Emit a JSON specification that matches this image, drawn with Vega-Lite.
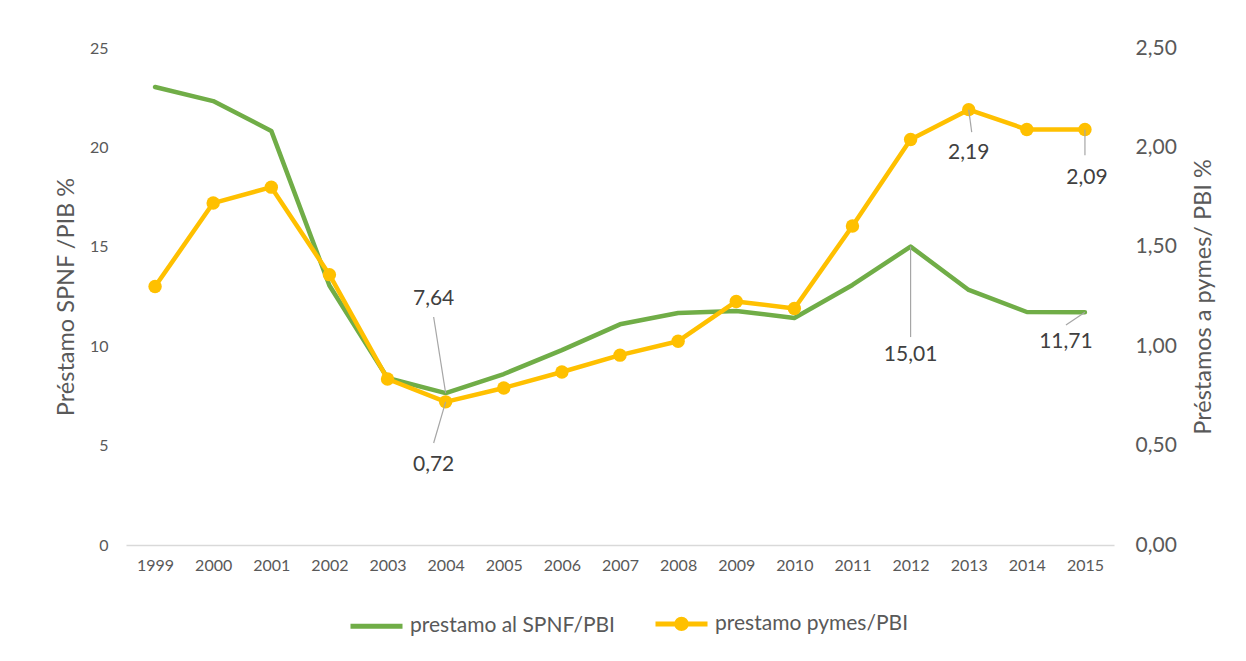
{
  "$schema": "https://vega.github.io/schema/vega-lite/v6.json",
  "autosize": {"type": "none"},
  "padding": {"left": 126, "top": 48, "right": 132, "bottom": 116},
  "width": 988,
  "height": 497,
  "background": "white",
  "config": {
    "locale": {"number": {"decimal": ",", "thousands": ".", "grouping": [3], "currency": ["", " €"]}},
    "font": "Lato",
    "view": {"stroke": null},
    "axis": {"grid": false, "ticks": false, "labelColor": "#595959", "titleColor": "#595959", "titleFontWeight": "normal", "labelFont": "Lato", "titleFont": "Lato"},
    "legend": {"labelFont": "Lato"}
  },
  "data": {
    "values": [
      {"year": 1999, "serie": "prestamo al SPNF/PBI", "value": 23.04},
      {"year": 2000, "serie": "prestamo al SPNF/PBI", "value": 22.33},
      {"year": 2001, "serie": "prestamo al SPNF/PBI", "value": 20.83},
      {"year": 2002, "serie": "prestamo al SPNF/PBI", "value": 13.05},
      {"year": 2003, "serie": "prestamo al SPNF/PBI", "value": 8.40},
      {"year": 2004, "serie": "prestamo al SPNF/PBI", "value": 7.64},
      {"year": 2005, "serie": "prestamo al SPNF/PBI", "value": 8.60},
      {"year": 2006, "serie": "prestamo al SPNF/PBI", "value": 9.80},
      {"year": 2007, "serie": "prestamo al SPNF/PBI", "value": 11.10},
      {"year": 2008, "serie": "prestamo al SPNF/PBI", "value": 11.67},
      {"year": 2009, "serie": "prestamo al SPNF/PBI", "value": 11.77},
      {"year": 2010, "serie": "prestamo al SPNF/PBI", "value": 11.42},
      {"year": 2011, "serie": "prestamo al SPNF/PBI", "value": 13.08},
      {"year": 2012, "serie": "prestamo al SPNF/PBI", "value": 15.01},
      {"year": 2013, "serie": "prestamo al SPNF/PBI", "value": 12.83},
      {"year": 2014, "serie": "prestamo al SPNF/PBI", "value": 11.72},
      {"year": 2015, "serie": "prestamo al SPNF/PBI", "value": 11.71},
      {"year": 1999, "serie": "prestamo  pymes/PBI", "value": 1.30},
      {"year": 2000, "serie": "prestamo  pymes/PBI", "value": 1.72},
      {"year": 2001, "serie": "prestamo  pymes/PBI", "value": 1.80},
      {"year": 2002, "serie": "prestamo  pymes/PBI", "value": 1.36},
      {"year": 2003, "serie": "prestamo  pymes/PBI", "value": 0.835},
      {"year": 2004, "serie": "prestamo  pymes/PBI", "value": 0.72},
      {"year": 2005, "serie": "prestamo  pymes/PBI", "value": 0.79},
      {"year": 2006, "serie": "prestamo  pymes/PBI", "value": 0.87},
      {"year": 2007, "serie": "prestamo  pymes/PBI", "value": 0.955},
      {"year": 2008, "serie": "prestamo  pymes/PBI", "value": 1.025},
      {"year": 2009, "serie": "prestamo  pymes/PBI", "value": 1.225},
      {"year": 2010, "serie": "prestamo  pymes/PBI", "value": 1.19},
      {"year": 2011, "serie": "prestamo  pymes/PBI", "value": 1.605},
      {"year": 2012, "serie": "prestamo  pymes/PBI", "value": 2.04},
      {"year": 2013, "serie": "prestamo  pymes/PBI", "value": 2.19},
      {"year": 2014, "serie": "prestamo  pymes/PBI", "value": 2.09},
      {"year": 2015, "serie": "prestamo  pymes/PBI", "value": 2.09}
    ]
  },
  "encoding": {
    "x": {
      "field": "year", "type": "ordinal",
      "scale": {"type": "point", "padding": 0.5},
      "axis": {"title": null, "labelAngle": 0, "labelFontSize": 16, "labelPadding": 12, "domainColor": "#d9d9d9", "domainWidth": 1.5}
    }
  },
  "layer": [
    {
      "transform": [{"filter": "datum.serie === 'prestamo al SPNF/PBI'"}],
      "encoding": {
        "y": {
          "field": "value", "type": "quantitative",
          "scale": {"domain": [0, 25], "nice": false},
          "axis": {"orient": "left", "values": [0, 5, 10, 15, 20, 25], "domain": false, "labelFontSize": 16, "labelPadding": 18, "title": "Préstamo SPNF /PIB %", "titleFontSize": 23.5, "titlePadding": 11}
        }
      },
      "layer": [
        {
          "mark": {"type": "line", "strokeWidth": 4.5, "strokeCap": "round", "strokeJoin": "round"},
          "encoding": {
            "color": {
              "field": "serie", "type": "nominal",
              "scale": {"domain": ["prestamo al SPNF/PBI", "prestamo  pymes/PBI"], "range": ["#70ad47", "#ffc000"]},
              "legend": {
                "title": null, "orient": "none", "direction": "horizontal", "legendX": 222, "legendY": 547,
                "symbolSize": 2704, "symbolStrokeWidth": 5, "symbolType": "stroke",
                "labelFontSize": 21, "labelColor": "#595959", "labelOffset": 5, "columnPadding": 30, "labelLimit": 400,
                "encode": {
                  "symbols": {
                    "update": {
                      "shape": {"signal": "datum.value === 'prestamo al SPNF/PBI' ? 'stroke' : 'M-1,0L1,0M-0.18,0A0.18,0.18,0,1,0,0.18,0A0.18,0.18,0,1,0,-0.18,0Z'"},
                      "fill": {"signal": "datum.value === 'prestamo al SPNF/PBI' ? 'transparent' : '#ffc000'"}
                    }
                  }
                }
              }
            }
          }
        },
        {
          "transform": [{"filter": "datum.year === 2004"}],
          "mark": {"type": "rule", "color": "#a6a6a6", "strokeWidth": 1.2, "x2Offset": -12},
          "encoding": {"x2": {"field": "year"}, "y2": {"datum": 11.47}}
        },
        {
          "transform": [{"filter": "datum.year === 2012"}],
          "mark": {"type": "rule", "color": "#a6a6a6", "strokeWidth": 1.2},
          "encoding": {"x2": {"field": "year"}, "y2": {"datum": 10.46}}
        },
        {
          "transform": [{"filter": "datum.year === 2015"}],
          "mark": {"type": "rule", "color": "#a6a6a6", "strokeWidth": 1.2, "x2Offset": -19},
          "encoding": {"x2": {"field": "year"}, "y2": {"datum": 11.07}}
        },
        {
          "transform": [{"filter": "datum.year === 2004"}],
          "mark": {"type": "text", "fontSize": 21, "color": "#404040", "dx": -12, "dy": -94, "baseline": "middle"},
          "encoding": {"text": {"field": "value", "type": "quantitative", "format": ".2f"}}
        },
        {
          "transform": [{"filter": "datum.year === 2012"}],
          "mark": {"type": "text", "fontSize": 21, "color": "#404040", "dx": 0, "dy": 108, "baseline": "middle"},
          "encoding": {"text": {"field": "value", "type": "quantitative", "format": ".2f"}}
        },
        {
          "transform": [{"filter": "datum.year === 2015"}],
          "mark": {"type": "text", "fontSize": 21, "color": "#404040", "dx": -19, "dy": 30, "baseline": "middle"},
          "encoding": {"text": {"field": "value", "type": "quantitative", "format": ".2f"}}
        }
      ]
    },
    {
      "transform": [{"filter": "datum.serie === 'prestamo  pymes/PBI'"}],
      "encoding": {
        "y": {
          "field": "value", "type": "quantitative",
          "scale": {"domain": [0, 2.5], "nice": false},
          "axis": {"orient": "right", "values": [0, 0.5, 1, 1.5, 2, 2.5], "format": ".2f", "domain": false, "labelFontSize": 21, "labelPadding": 21, "title": "Préstamos a pymes/ PBI %", "titleFontSize": 23.5, "titleAngle": 270, "titlePadding": 39}
        }
      },
      "layer": [
        {
          "mark": {"type": "line", "strokeWidth": 4.5, "strokeCap": "round", "strokeJoin": "round"},
          "encoding": {"color": {"field": "serie", "type": "nominal"}}
        },
        {
          "mark": {"type": "circle", "size": 180, "color": "#ffc000", "opacity": 1}
        },
        {
          "transform": [{"filter": "datum.year === 2004"}],
          "mark": {"type": "rule", "color": "#a6a6a6", "strokeWidth": 1.2, "x2Offset": -12},
          "encoding": {"x2": {"field": "year"}, "y2": {"datum": 0.513}}
        },
        {
          "transform": [{"filter": "datum.year === 2013"}],
          "mark": {"type": "rule", "color": "#a6a6a6", "strokeWidth": 1.2, "x2Offset": 3},
          "encoding": {"x2": {"field": "year"}, "y2": {"datum": 2.077}}
        },
        {
          "transform": [{"filter": "datum.year === 2015"}],
          "mark": {"type": "rule", "color": "#a6a6a6", "strokeWidth": 1.2},
          "encoding": {"x2": {"field": "year"}, "y2": {"datum": 1.96}}
        },
        {
          "transform": [{"filter": "datum.year === 2004"}],
          "mark": {"type": "text", "fontSize": 21, "color": "#404040", "dx": -12, "dy": 63, "baseline": "middle"},
          "encoding": {"text": {"field": "value", "type": "quantitative", "format": ".2f"}}
        },
        {
          "transform": [{"filter": "datum.year === 2013"}],
          "mark": {"type": "text", "fontSize": 21, "color": "#404040", "dx": 0, "dy": 43, "baseline": "middle"},
          "encoding": {"text": {"field": "value", "type": "quantitative", "format": ".2f"}}
        },
        {
          "transform": [{"filter": "datum.year === 2015"}],
          "mark": {"type": "text", "fontSize": 21, "color": "#404040", "dx": 2, "dy": 48, "baseline": "middle"},
          "encoding": {"text": {"field": "value", "type": "quantitative", "format": ".2f"}}
        }
      ]
    }
  ],
  "resolve": {"scale": {"y": "independent"}}
}
